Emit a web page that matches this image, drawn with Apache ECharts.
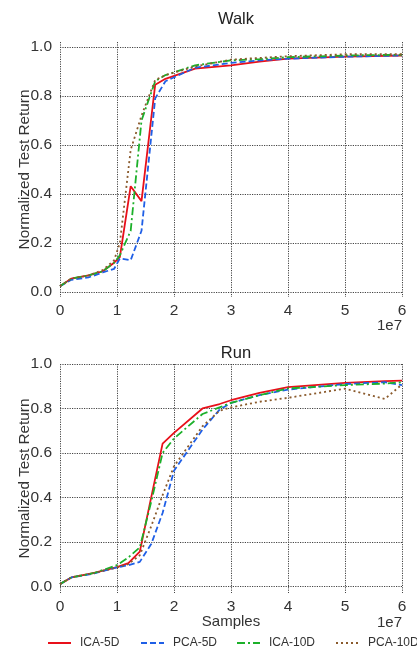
<!DOCTYPE html>
<html><head><meta charset="utf-8">
<script src="https://cdn.jsdelivr.net/npm/echarts@6/dist/echarts.min.js"></script>
<style>html,body{margin:0;padding:0;background:#fff}#c{width:417px;height:653px}</style>
</head><body><div id="c"></div>
<script>
// ---- data (x in units of 1e7 samples) ----
const walkX = [0, 0.2, 0.5, 0.75, 0.95, 1.05, 1.24, 1.43, 1.67, 1.85, 2.37, 3.0, 3.5, 4.0, 5.0, 6.0];
const walkICA5 = [0.024, 0.055, 0.068, 0.085, 0.12, 0.143, 0.432, 0.371, 0.846, 0.87, 0.911, 0.925, 0.94, 0.952, 0.96, 0.965];
const walkPCA5 = [0.024, 0.05, 0.06, 0.08, 0.095, 0.137, 0.13, 0.25, 0.79, 0.86, 0.915, 0.935, 0.945, 0.952, 0.96, 0.965];
const walkICA10 = [0.024, 0.055, 0.068, 0.085, 0.12, 0.15, 0.25, 0.70, 0.86, 0.885, 0.925, 0.945, 0.95, 0.958, 0.965, 0.968];
const walkPCA10 = [0.024, 0.055, 0.068, 0.09, 0.13, 0.2, 0.58, 0.72, 0.865, 0.885, 0.92, 0.948, 0.955, 0.962, 0.97, 0.97];

const runX = [0, 0.2, 0.6, 1.0, 1.2, 1.4, 1.6, 1.8, 2.0, 2.5, 2.8, 3.0, 3.5, 4.0, 5.0, 5.7, 6.0];
const runICA5 = [0.01, 0.04, 0.06, 0.086, 0.104, 0.156, 0.40, 0.642, 0.69, 0.80, 0.82, 0.837, 0.87, 0.896, 0.915, 0.923, 0.925];
const runPCA5 = [0.01, 0.04, 0.058, 0.085, 0.095, 0.11, 0.19, 0.33, 0.52, 0.705, 0.795, 0.825, 0.86, 0.885, 0.91, 0.918, 0.905];
const runICA10 = [0.01, 0.04, 0.06, 0.095, 0.13, 0.175, 0.38, 0.60, 0.665, 0.775, 0.805, 0.825, 0.86, 0.89, 0.905, 0.912, 0.918];
const runPCA10 = [0.01, 0.04, 0.06, 0.085, 0.10, 0.14, 0.27, 0.41, 0.54, 0.72, 0.79, 0.805, 0.83, 0.848, 0.889, 0.843, 0.908];

const seriesNames = ['ICA-5D', 'PCA-5D', 'ICA-10D', 'PCA-10D'];
const yTicks = [0, 0.2, 0.4, 0.6, 0.8, 1.0];
const xTicks = [0, 1, 2, 3, 4, 5, 6];
const scale = 1e7;

// ---- styles ----
const FONT = 'Liberation Sans, Arial, sans-serif';
const colors = ['#e8101a', '#1f5fe6', '#1cb02a', '#8a5a2c'];
const dashes = ['solid', [6, 3], [8, 3, 2, 3], [2, 3]];
const gridLine = {show: true, lineStyle: {color: '#444', width: 1, type: [1.2, 1.2]}};

function xAxis(grid, withName) {
  return {
    type: 'value', gridIndex: grid, min: 0, max: 6 * scale, interval: scale,
    axisLine: {show: false}, axisTick: {show: false},
    axisLabel: {formatter: v => String(Math.round(v / scale)), color: '#333', fontSize: 15.5, fontFamily: FONT, margin: 6},
    splitLine: gridLine,
    name: withName ? 'Samples' : '', nameLocation: 'middle', nameGap: 21, nameMoveOverlap: false,
    nameTextStyle: {color: '#333', fontSize: 15, fontFamily: FONT}
  };
}
function yAxis(grid, min, max) {
  return {
    type: 'value', gridIndex: grid, min: min, max: max,
    axisLine: {show: false},
    axisTick: {show: false, customValues: yTicks},
    axisLabel: {customValues: yTicks, formatter: v => v.toFixed(1), color: '#333', fontSize: 15.5, fontFamily: FONT, margin: 8},
    splitLine: gridLine,
    name: 'Normalized Test Return', nameLocation: 'middle', nameGap: 28, nameMoveOverlap: false,
    nameTextStyle: {color: '#333', fontSize: 15.3, fontFamily: FONT}
  };
}
function mk(xs, ys, i, axisIdx) {
  return {
    type: 'line', name: seriesNames[i], xAxisIndex: axisIdx, yAxisIndex: axisIdx,
    data: xs.map((x, k) => [x * scale, ys[k]]),
    showSymbol: false, symbol: 'none', animation: false,
    lineStyle: {color: colors[i], width: 1.8, type: dashes[i]},
    itemStyle: {color: colors[i]}
  };
}
const legendLeft = [42, 135, 231, 330];
const option = {
  animation: false,
  textStyle: {fontFamily: FONT},
  title: [
    {text: 'Walk', left: 231, top: 6, textAlign: 'center', textStyle: {fontSize: 16.5, fontWeight: 'normal', color: '#222', fontFamily: FONT}},
    {text: 'Run', left: 231, top: 340, textAlign: 'center', textStyle: {fontSize: 16.5, fontWeight: 'normal', color: '#222', fontFamily: FONT}}
  ],
  grid: [
    {left: 60, right: 15, top: 42, height: 255, outerBoundsMode: 'none', containLabel: false},
    {left: 60, right: 15, top: 364, height: 229, outerBoundsMode: 'none', containLabel: false}
  ],
  xAxis: [xAxis(0, false), xAxis(1, true)],
  yAxis: [yAxis(0, -0.02, 1.02), yAxis(1, -0.03, 1.0)],
  legend: seriesNames.map((n, i) => ({
    data: [n], left: legendLeft[i], top: 632, itemWidth: 23, itemHeight: 12, itemGap: 0,
    itemStyle: {opacity: 0},
    textStyle: {fontSize: 12, color: '#333', fontFamily: FONT, padding: [0, 0, 0, 4]}, selectedMode: false
  })),
  graphic: [
    {type: 'text', right: 15, top: 318, style: {text: '1e7', fontSize: 15, fill: '#333', fontFamily: FONT}},
    {type: 'text', right: 15, top: 615, style: {text: '1e7', fontSize: 15, fill: '#333', fontFamily: FONT}}
  ],
  series: [
    mk(walkX, walkICA5, 0, 0), mk(walkX, walkPCA5, 1, 0), mk(walkX, walkICA10, 2, 0), mk(walkX, walkPCA10, 3, 0),
    mk(runX, runICA5, 0, 1), mk(runX, runPCA5, 1, 1), mk(runX, runICA10, 2, 1), mk(runX, runPCA10, 3, 1)
  ]
};
const chart = echarts.init(document.getElementById('c'), null, {renderer: 'canvas'});
chart.setOption(option);
</script></body></html>
